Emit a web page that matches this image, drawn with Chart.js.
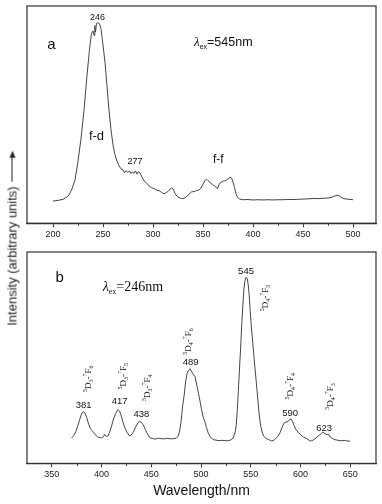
<!DOCTYPE html>
<html>
<head>
<meta charset="utf-8">
<script src="https://cdn.jsdelivr.net/npm/chart.js@4.4.0/dist/chart.umd.min.js"></script>
<style>
html, body { margin: 0; padding: 0; background: #fff; }
#wrap { position: relative; width: 382px; height: 504px; overflow: hidden; font-family: "Liberation Sans", Arial, sans-serif; }
.box { position: absolute; left: 0; }
#ylab { position: absolute; left: 12px; top: 238px; transform: translate(-50%, -50%) rotate(-90deg);
        white-space: nowrap; font-size: 13px; color: #222; display: flex; align-items: center; }
#ylab .ln { display: inline-block; width: 24px; height: 0; border-top: 1px solid #222; margin-left: 5px; }
#ylab .hd { width: 0; height: 0; border-top: 3px solid transparent; border-bottom: 3px solid transparent; border-left: 7px solid #222; }
</style>
</head>
<body>
<div id="wrap">
  <div class="box" style="top:0"><canvas id="chartA" width="382" height="246"></canvas></div>
  <div class="box" style="top:246px"><canvas id="chartB" width="382" height="258"></canvas></div>
  <div id="ylab"><span>Intensity (arbitrary units)</span><span class="ln"></span><span class="hd"></span></div>
</div>
<script>
// panel a: excitation spectrum (monitored at 545 nm)
var aWl = [200, 205, 210, 213, 216, 219, 222, 225, 228, 231, 234, 236.5, 238.5, 240, 241, 241.8, 242.5, 243.5, 245, 246.5,
  248, 250, 252, 254, 256, 258, 260, 262, 264, 266, 268, 270, 271.5, 273, 275, 276.5, 278, 279.5, 281, 282.5,
  284, 285.5, 287, 289, 291, 293.5, 296, 298.5, 301, 303.5, 306, 308.5, 311, 313.5, 316, 318.5, 320, 322, 324, 326,
  328.5, 331, 333.5, 336, 338.5, 341, 343.5, 346, 348, 350, 352, 353.5, 355, 357, 359.5, 362, 364.5, 366, 367.5, 369.5,
  371, 372.5, 374, 375.5, 377, 378.5, 380, 381.5, 383, 384.5, 386.5, 390, 395, 400, 405, 410, 415, 420, 425, 430,
  435, 440, 445, 450, 455, 460, 465, 470, 475, 478, 481, 484, 486.5, 489, 492, 496, 500];
var aInt = [10.2, 10.5, 11, 11.8, 13, 15.8, 20, 28.5, 39, 52, 68, 80, 87.5, 88.5, 86.5, 91, 88, 92, 92.3, 91.8,
  89.5, 82, 74, 63, 52, 43, 36, 31.5, 28.5, 26.5, 25, 24.5, 23.2, 24.2, 23.4, 24, 22.8, 23.6, 23, 24.1,
  22.6, 23.8, 23.2, 21.2, 19.5, 18.5, 17.2, 16.3, 16, 15.2, 15, 14.2, 13.6, 14, 15.2, 16.2, 15.8, 13.8, 12.4, 11.8,
  11.3, 11.4, 12.2, 13.4, 14.4, 14.6, 15, 15.3, 16.2, 18, 19.6, 20.3, 19.6, 18.8, 17.8, 17, 15.9, 17.8, 18.8, 19.2,
  19.6, 19.4, 20.2, 20.4, 21.3, 20.8, 19, 16.5, 13.5, 11.8, 11.1, 10.8, 10.9, 10.7, 10.8, 10.7, 10.8, 10.7, 10.8, 10.8,
  10.9, 10.9, 11, 11.1, 11.2, 11.4, 11.3, 11.5, 11.6, 11.8, 12.4, 12.9, 12.5, 11.7, 11.2, 11, 10.8];
var aTicks = [200, 250, 300, 350, 400, 450, 500];
var aMinor = [225, 275, 325, 375, 425, 475];

// panel b: emission spectrum (excited at 246 nm)
var bWl = [370, 372, 374, 376, 378, 380, 381.5, 383, 385, 387, 389, 391, 393, 395, 397, 400, 402, 403, 404.5, 406.5,
  408, 410, 412, 414, 416.5, 418, 419.5, 421.5, 423.5, 425.5, 428, 430, 432, 434.5, 436.5, 438.5, 440.5, 442, 444, 446,
  448.5, 451, 454, 457, 460, 463, 466, 469, 472, 475, 477, 478.5, 480, 481.5, 483, 484.5, 486, 487.5, 489, 490.5,
  492, 494, 496, 497.5, 499, 500.5, 502, 504, 505.5, 507.5, 509.5, 512, 515, 518, 521, 524, 527, 530, 532.5, 534.5,
  535.5, 536.5, 537.5, 538.5, 540, 541, 542, 543, 544, 545.2, 546.5, 547.5, 548.5, 549.5, 550.5, 551.5, 552.5, 554, 555.5, 557,
  558.5, 560, 561.5, 563, 565.5, 568, 571, 574, 577, 579.5, 581.5, 583.5, 585.5, 587.5, 589, 590.5, 592, 593.5, 595.5, 597.5,
  600, 603, 606, 609, 611, 613, 615.5, 618, 620.5, 622.5, 624.5, 626.5, 628, 630, 632.5, 635, 638, 641, 644, 647, 650];
var bInt = [12.1, 13.2, 15, 17.6, 20.8, 23.5, 24.5, 24, 21.8, 18.5, 16.2, 15.3, 14, 12.9, 12.3, 12.1, 12.6, 13.7, 12.8, 13,
  14.6, 17.6, 21, 23.5, 25.5, 24.8, 23, 19.5, 16.8, 14.8, 13, 13.5, 14.8, 17.5, 19.2, 20, 19, 18.2, 16, 14,
  12.2, 11.8, 11.5, 11.9, 11.7, 11.6, 11.9, 11.6, 11.7, 11.9, 12.9, 15.3, 20, 27, 32, 38.5, 42.5, 44, 44.8, 43.5,
  42.3, 41, 36.5, 33, 29.5, 25.5, 22.3, 19.5, 17, 14, 12.5, 11.3, 11, 10.8, 10.9, 10.8, 10.7, 11.1, 12.1, 15,
  18.5, 25, 34, 42.8, 56, 66, 74, 81.5, 86, 88, 87.5, 84.5, 79.5, 72, 65.5, 60, 54.5, 46.5, 39, 31,
  23, 17.8, 14.8, 12.9, 11.8, 11.3, 10.6, 11.2, 12.6, 14.5, 17, 19, 19.6, 19.8, 20.8, 21, 19.8, 18, 16, 14.8,
  13.6, 12.5, 11.8, 10.8, 10.6, 11.1, 12, 13, 13.9, 14.8, 14.2, 13.6, 13.9, 12.5, 11.7, 11.2, 10.9, 10.7, 10.9, 10.6, 10.5];
var bTicks = [350, 400, 450, 500, 550, 600, 650];
var bMinor = [375, 425, 475, 525, 575, 625];
var bPeaks = ['381', '417', '438', '489', '545', '590', '623'];
var bLevels = [['3', '6'], ['3', '5'], ['3', '4'], ['4', '6'], ['4', '5'], ['4', '4'], ['4', '3']];

var SANS = '"Liberation Sans", Arial, sans-serif';
var SERIF = '"Liberation Serif", "Times New Roman", serif';

function pts(xs, ys) {
  return xs.map(function(x, i) { return { x: x, y: ys[i] }; });
}

// draws text made of pieces [text, font, dy] starting centred (or left) at 0,0
function rich(ctx, parts, x, y, rot, align) {
  ctx.save();
  ctx.translate(x, y);
  ctx.rotate(rot || 0);
  var w = 0;
  parts.forEach(function(p) { ctx.font = p[1]; w += ctx.measureText(p[0]).width; });
  var cx = align === 'left' ? 0 : -w / 2;
  ctx.textAlign = 'left';
  ctx.textBaseline = 'alphabetic';
  ctx.fillStyle = '#111';
  parts.forEach(function(p) {
    ctx.font = p[1];
    ctx.fillText(p[0], cx, p[2]);
    cx += ctx.measureText(p[0]).width;
  });
  ctx.restore();
}

function framePlugin(minor, notes) {
  return {
    id: 'frame',
    afterDraw: function(chart) {
      var ctx = chart.ctx, a = chart.chartArea, xs = chart.scales.x, ys = chart.scales.y;
      ctx.save();
      ctx.strokeStyle = '#333';
      ctx.lineWidth = 1.2;
      ctx.strokeRect(a.left, a.top, a.right - a.left, a.bottom - a.top);
      ctx.lineWidth = 1;
      minor.forEach(function(v) {
        var px = Math.round(xs.getPixelForValue(v)) + 0.5;
        ctx.beginPath();
        ctx.moveTo(px, a.bottom);
        ctx.lineTo(px, a.bottom + 2.5);
        ctx.stroke();
      });
      ctx.restore();
      notes.forEach(function(n) { n(ctx, xs, ys); });
    }
  };
}

function plain(text, x, y, font) {
  return function(ctx, xs, ys) {
    ctx.save();
    ctx.font = font;
    ctx.fillStyle = '#111';
    ctx.textAlign = 'center';
    ctx.textBaseline = 'middle';
    ctx.fillText(text, xs.getPixelForValue(x), ys.getPixelForValue(y));
    ctx.restore();
  };
}

function opts(xmin, xmax, ticks, pad, title) {
  return {
    responsive: false,
    animation: false,
    layout: { padding: pad },
    plugins: { legend: { display: false }, tooltip: { enabled: false } },
    scales: {
      x: {
        type: 'linear', min: xmin, max: xmax,
        afterBuildTicks: function(s) { s.ticks = ticks.map(function(v) { return { value: v }; }); },
        grid: { drawOnChartArea: false, drawTicks: true, tickLength: 4, tickColor: '#333', tickWidth: 1 },
        border: { color: '#333', width: 1.2 },
        ticks: { font: { size: 9, family: SANS }, color: '#222', padding: 2, maxRotation: 0, autoSkip: false },
        title: title ? { display: true, text: title, font: { size: 14, family: SANS }, color: '#111', padding: { top: 1, bottom: 0 } } : { display: false }
      },
      y: { display: false, min: 0, max: 100 }
    }
  };
}

// chartA
var notesA = [
  plain('a', 198.4, 82, '15px ' + SANS),
  plain('246', 244.5, 94.8, '9px ' + SANS),
  plain('f-d', 243.5, 39.8, '13px ' + SANS),
  plain('277', 281.9, 28.6, '9px ' + SANS),
  plain('f-f', 365.3, 29.4, '12px ' + SANS),
  function(ctx, xs, ys) {
    rich(ctx, [['λ', 'italic 13px ' + SERIF, 4], ['ex', '7px ' + SANS, 7], ['=545nm', '12.5px ' + SANS, 4]],
      xs.getPixelForValue(341), ys.getPixelForValue(83.6), 0, 'left');
  }
];
new Chart(document.getElementById('chartA').getContext('2d'), {
  type: 'line',
  data: { datasets: [{ data: pts(aWl, aInt), borderColor: '#444', borderWidth: 1, pointRadius: 0, tension: 0, fill: false }] },
  options: opts(174, 523, aTicks, { left: 27, right: 6, top: 6, bottom: 4 }),
  plugins: [framePlugin(aMinor, notesA)]
});

// chartB
var bLabelX = [382, 418.2, 440.1, 489.5, 545.3, 589.6, 623.9];
var bLabelY = [27.5, 29.2, 23.1, 47.6, 90.7, 23.6, 16.8];
var bTermX = [386.3, 421.6, 445.2, 487.1, 564.4, 589.6, 630];
var bTermY = [40.1, 41.2, 35.8, 57.7, 78.2, 36.5, 31.7];
var notesB = [
  plain('b', 357.8, 87.7, '15px ' + SANS),
  function(ctx, xs, ys) {
    rich(ctx, [['λ', 'italic 14px ' + SERIF, 4], ['ex', '8px ' + SERIF, 7], ['=246nm', '14px ' + SERIF, 4]],
      xs.getPixelForValue(401.1), ys.getPixelForValue(83.5), 0, 'left');
  }
];
bPeaks.forEach(function(t, i) {
  notesB.push(plain(t, bLabelX[i], bLabelY[i], '9.5px ' + SANS));
  notesB.push(function(ctx, xs, ys) {
    var big = '9px ' + SERIF, sm = '6px ' + SERIF;
    rich(ctx, [['5', sm, -1], ['D', big, 3], [bLevels[i][0], sm, 5], ['-', big, 3], ['7', sm, -1], ['F', big, 3], [bLevels[i][1], sm, 5]],
      xs.getPixelForValue(bTermX[i]), ys.getPixelForValue(bTermY[i]), -Math.PI / 2);
  });
});
new Chart(document.getElementById('chartB').getContext('2d'), {
  type: 'line',
  data: { datasets: [{ data: pts(bWl, bInt), borderColor: '#444', borderWidth: 1, pointRadius: 0, tension: 0, fill: false }] },
  options: opts(325, 676, bTicks, { left: 27, right: 6, top: 6, bottom: 4 }, 'Wavelength/nm'),
  plugins: [framePlugin(bMinor, notesB)]
});
</script>
</body>
</html>
